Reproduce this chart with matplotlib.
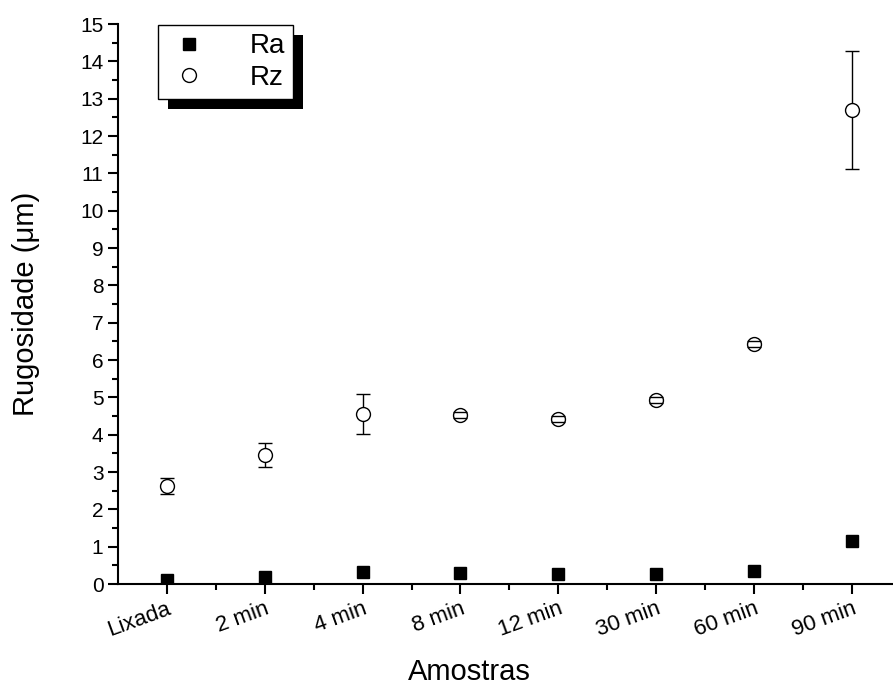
import numpy as np
import matplotlib
matplotlib.use('Agg')
import matplotlib.pyplot as plt
import matplotlib.patheffects as pe
import matplotlib.transforms as mtransforms
from matplotlib.ticker import MultipleLocator

plt.rcParams['font.family'] = ['Liberation Sans', 'DejaVu Sans']

# data
samples = ['Lixada', '2 min', '4 min', '8 min', '12 min', '30 min', '60 min', '90 min']
ra = [0.11, 0.19, 0.31, 0.29, 0.26, 0.27, 0.35, 1.15]
rz = [2.62, 3.45, 4.55, 4.52, 4.41, 4.93, 6.43, 12.70]
rz_err = [0.21, 0.32, 0.54, 0.08, 0.08, 0.09, 0.08, 1.58]

x = np.arange(len(samples))

fig = plt.figure(figsize=(8.93, 6.93), dpi=100)
ax = fig.add_axes([118 / 893, 109 / 693, 775 / 893, 560 / 693])

ax.plot(x, ra, 's', color='black', markersize=8, label='Ra', zorder=3)
# error bar stems under the circles, caps drawn on top (as in the original)
_, caps, bars = ax.errorbar(x, rz, yerr=rz_err, fmt='none', ecolor='black',
                            elinewidth=1, capsize=5, capthick=1, zorder=2)
for c in caps:
    c.set_zorder(4)
ax.plot(x, rz, 'o', mfc='white', mec='black', markersize=10, mew=1, label='Rz', zorder=3)

ax.set_xlim(-0.5, 7.42)
ax.set_ylim(0, 15)
ax.yaxis.set_major_locator(MultipleLocator(1))
ax.yaxis.set_minor_locator(MultipleLocator(0.5))
ax.set_xticks(x)
ax.set_xticks(x[:-1] + 0.5, minor=True)
ax.set_xticklabels(samples, rotation=20, ha='right', rotation_mode='anchor')
shift = mtransforms.ScaledTranslation(11 / 100, 0, fig.dpi_scale_trans)
for lbl in ax.get_xticklabels():
    lbl.set_transform(lbl.get_transform() + shift)

for s in ['top', 'right']:
    ax.spines[s].set_visible(False)
for s in ['left', 'bottom']:
    ax.spines[s].set_linewidth(1.5)
ax.tick_params(which='major', direction='out', length=7, width=1.5, labelsize=15)
ax.tick_params(axis='x', which='major', labelsize=16)
ax.tick_params(which='minor', direction='out', length=4, width=1.5)

ax.set_xlabel('Amostras', fontsize=21)
ax.xaxis.set_label_coords(0.454, -0.132)
ax.set_ylabel('Rugosidade (\u03bcm)', fontsize=21)
ax.yaxis.set_label_coords(-0.100, 0.5)

leg = ax.legend(loc='upper left', bbox_to_anchor=(158 / 893, 1 - 25 / 693),
                bbox_transform=fig.transFigure, borderaxespad=0, fancybox=False,
                fontsize=20, handletextpad=1.4, borderpad=0.3, labelspacing=0.2,
                handlelength=1.6)
frame = leg.get_frame()
frame.set_edgecolor('black')
frame.set_linewidth(1)
frame.set_alpha(1)
frame.set_path_effects([pe.SimplePatchShadow(offset=(7, -7), shadow_rgbFace='black', alpha=1),
                        pe.Normal()])

fig.savefig('out.png', dpi=100)
